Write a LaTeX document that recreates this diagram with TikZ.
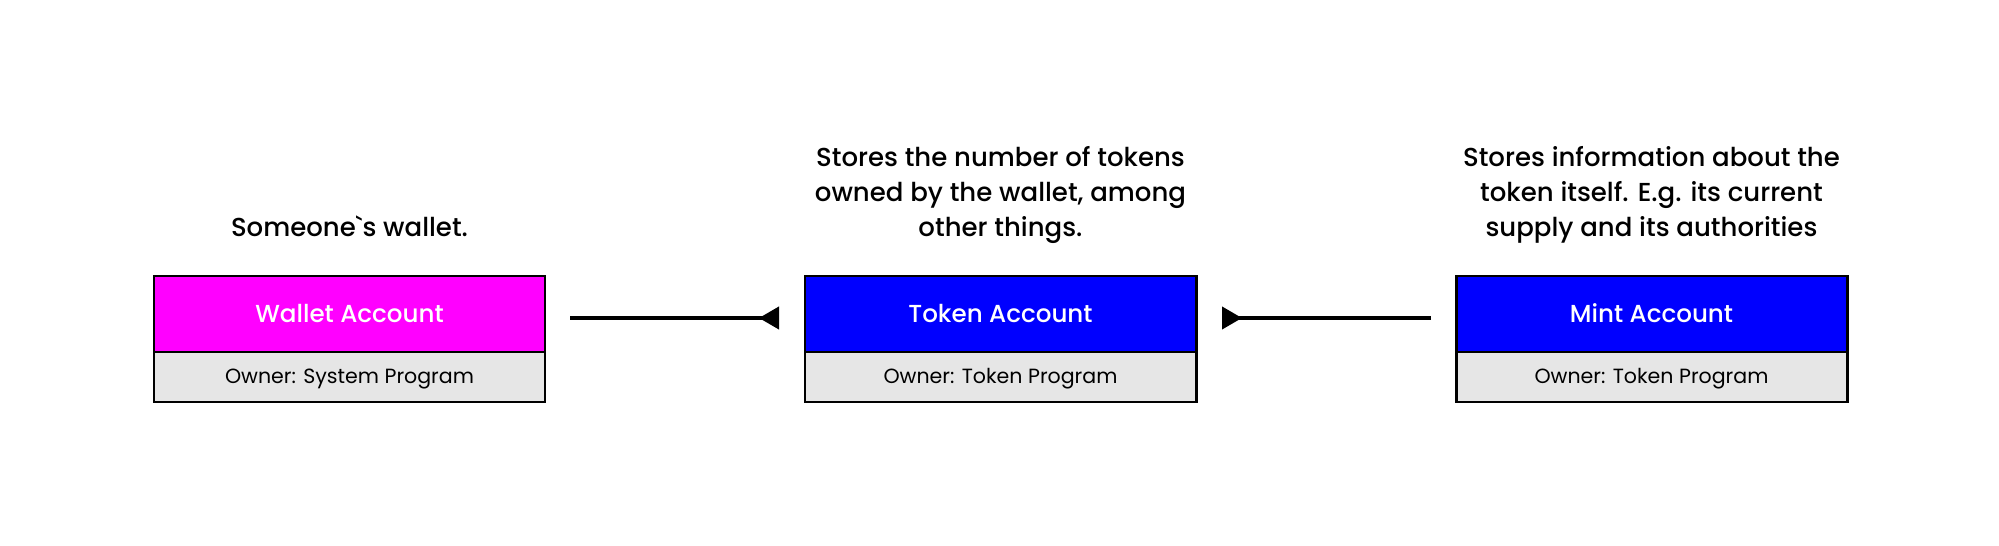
\documentclass[tikz,border=0pt]{standalone}
\usepackage{fontspec}
\setmainfont{Poppins}
\newfontfamily\medfont{Poppins Medium}
\usetikzlibrary{positioning,arrows.meta}
\definecolor{walletpink}{HTML}{FF00FF}
\definecolor{tokenblue}{HTML}{0000FF}
\definecolor{ownergray}{HTML}{E6E6E6}

\tikzstyle{head} = [rectangle, draw, line width=0.85pt, outer sep=0pt, inner sep=0pt,
text=white, minimum width=3.91cm, minimum height=0.76cm, text height=0.5em, text depth=0pt,
font=\medfont\fontsize{7.0}{8}\selectfont]
\tikzstyle{owner} = [rectangle, draw, line width=0.85pt, outer sep=0pt, inner sep=0pt,
fill=ownergray, minimum width=3.91cm, minimum height=0.50cm, text height=0.35em, text depth=0pt,
font=\fontsize{5.85}{7}\selectfont]
\tikzstyle{note} = [align=center, inner sep=0pt, font=\medfont\fontsize{7.4}{10}\selectfont]
\tikzstyle{line} = [draw, line width=1pt, -{Triangle[reversed, length=5.7pt, width=6.3pt]},
shorten <=0.25cm, shorten >=0.26cm]

\begin{document}
\begin{tikzpicture}[node distance = 2.6cm]
\useasboundingbox (0,0) rectangle (19.99,5.45);
\node [head, fill=walletpink] (Wallet) at (3.495,2.31) {Wallet Account};
\node [owner, below=0pt of Wallet] (WalletOwner) {Owner: System Program};
\node [head, fill=tokenblue, right=of Wallet] (Token) {Token Account};
\node [owner, below=0pt of Token] (TokenOwner) {Owner: Token Program};
\node [head, fill=tokenblue, right=of Token] (Mint) {Mint Account};
\node [owner, below=0pt of Mint] (MintOwner) {Owner: Token Program};

\node [note, above=0.28cm of Wallet] (WalletNote) {Someone\symbol{96}s wallet.\strut};
\node [note, above=0.28cm of Token] (TokenNote) {Stores the number of tokens\\owned by the wallet, among\\other things.\strut};
\node [note, above=0.28cm of Mint] (MintNote) {Stores information about the\\token itself. E.g. its current\\supply and its authorities\strut};

\path [line] ([yshift=-0.04cm]Wallet.east) -- ([yshift=-0.04cm]Token.west);
\path [line] ([yshift=-0.04cm]Mint.west) -- ([yshift=-0.04cm]Token.east);
\end{tikzpicture}
\end{document}
